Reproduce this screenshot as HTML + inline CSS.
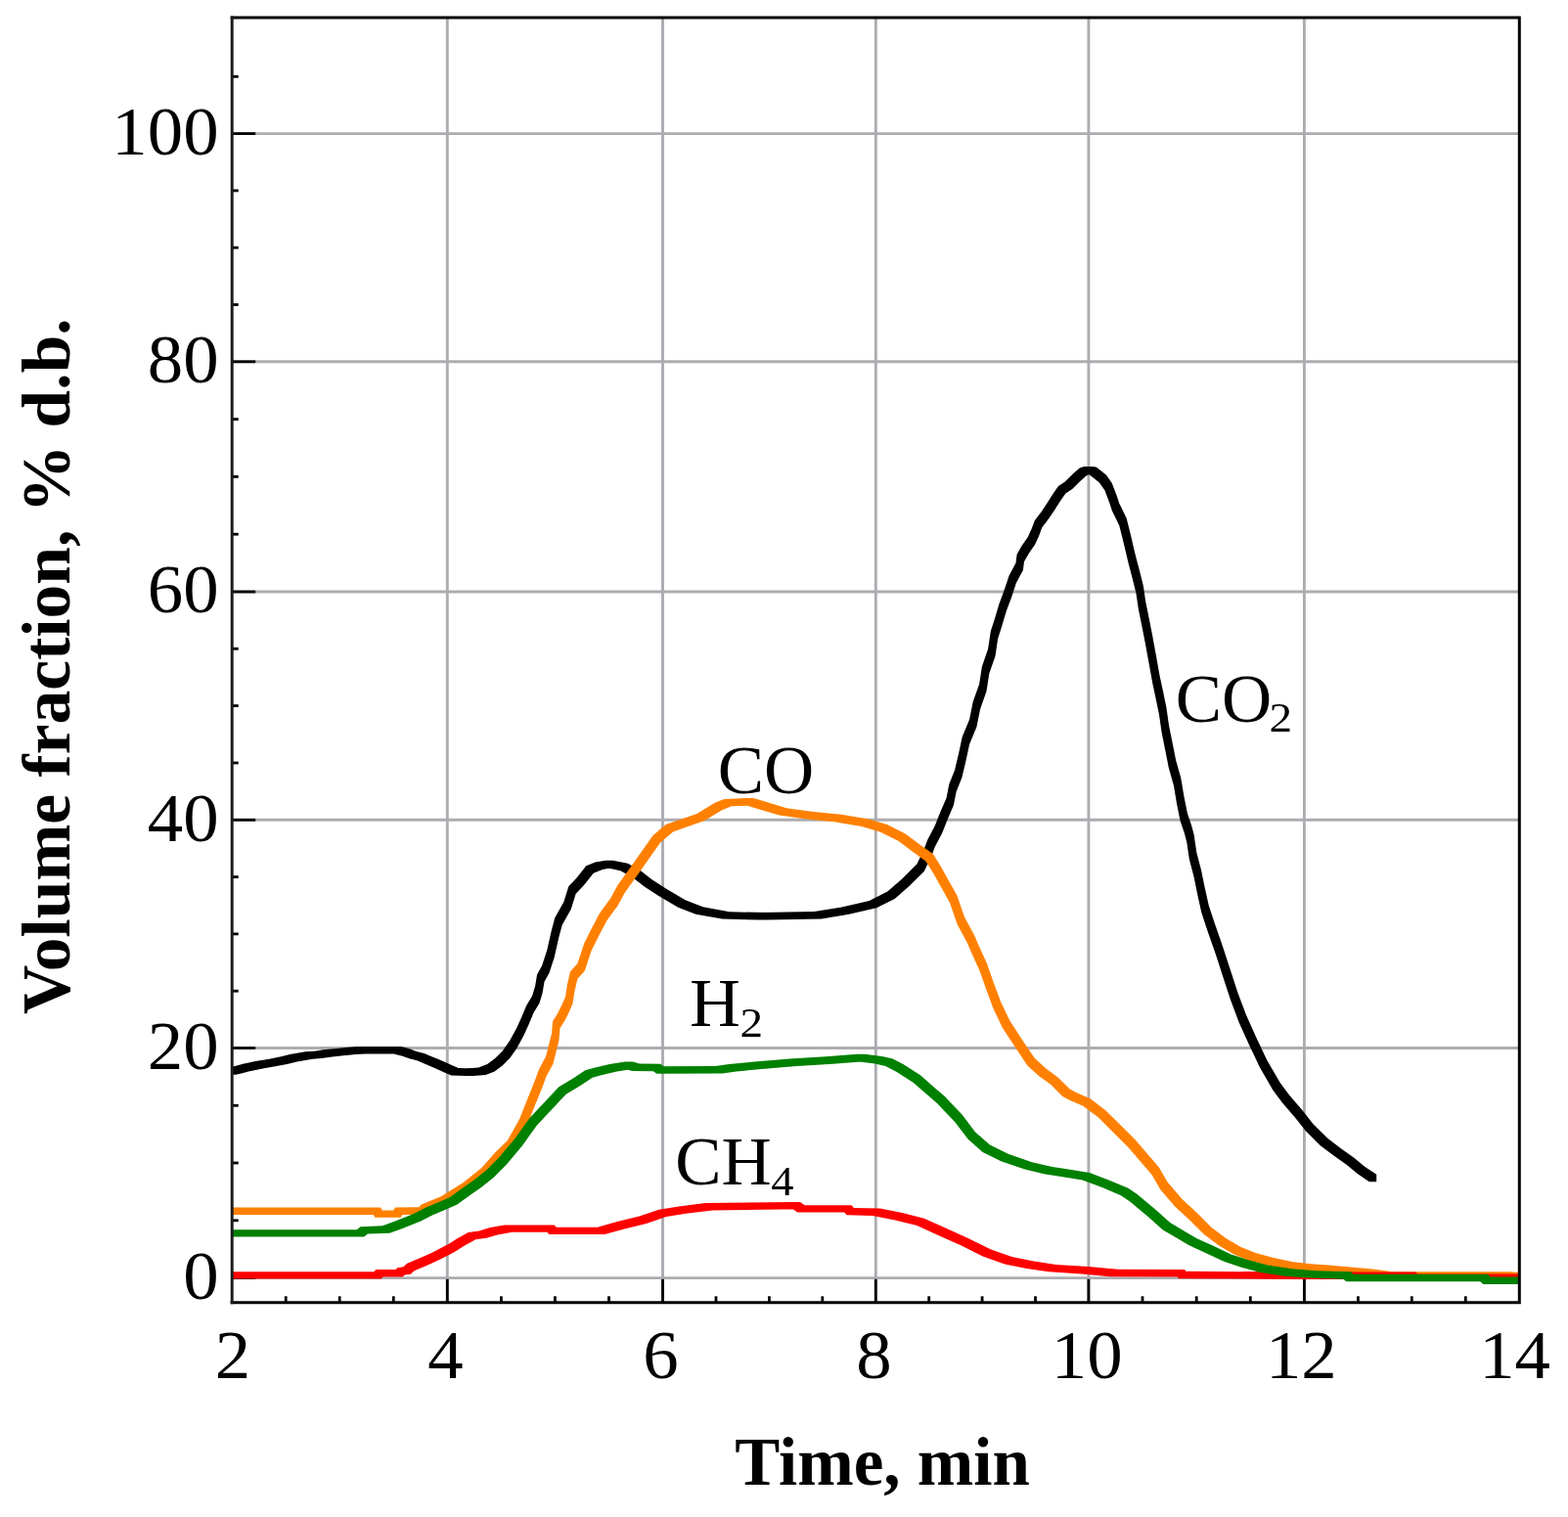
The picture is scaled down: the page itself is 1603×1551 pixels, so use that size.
<!DOCTYPE html>
<html><head><meta charset="utf-8"><title>Volume fraction vs time</title>
<style>html,body{margin:0;padding:0;background:#fff;}body{width:1603px;height:1551px;overflow:hidden;}svg{display:block;}</style></head><body>
<svg width="1603" height="1551" viewBox="0 0 1603 1551">
<rect x="0" y="0" width="1603" height="1551" fill="#fff"/>
<g stroke="#adacb1" stroke-width="2.9" fill="none"><line x1="237.2" y1="1306.6" x2="1553.3" y2="1306.6"/><line x1="237.2" y1="1071.5" x2="1553.3" y2="1071.5"/><line x1="237.2" y1="838.3" x2="1553.3" y2="838.3"/><line x1="237.2" y1="605.0" x2="1553.3" y2="605.0"/><line x1="237.2" y1="369.8" x2="1553.3" y2="369.8"/><line x1="237.2" y1="136.6" x2="1553.3" y2="136.6"/><line x1="457.3" y1="17.9" x2="457.3" y2="1331.8"/><line x1="677.5" y1="17.9" x2="677.5" y2="1331.8"/><line x1="895.3" y1="17.9" x2="895.3" y2="1331.8"/><line x1="1112.9" y1="17.9" x2="1112.9" y2="1331.8"/><line x1="1333.4" y1="17.9" x2="1333.4" y2="1331.8"/></g>
<g stroke="#000" stroke-width="2.8" fill="none"><line x1="237.2" y1="1306.6" x2="261.2" y2="1306.6"/><line x1="237.2" y1="1071.5" x2="261.2" y2="1071.5"/><line x1="237.2" y1="838.3" x2="261.2" y2="838.3"/><line x1="237.2" y1="605.0" x2="261.2" y2="605.0"/><line x1="237.2" y1="369.8" x2="261.2" y2="369.8"/><line x1="237.2" y1="136.6" x2="261.2" y2="136.6"/><line x1="237.2" y1="1247.8" x2="243.7" y2="1247.8"/><line x1="237.2" y1="1189.0" x2="243.7" y2="1189.0"/><line x1="237.2" y1="1130.3" x2="243.7" y2="1130.3"/><line x1="237.2" y1="1013.2" x2="243.7" y2="1013.2"/><line x1="237.2" y1="954.9" x2="243.7" y2="954.9"/><line x1="237.2" y1="896.6" x2="243.7" y2="896.6"/><line x1="237.2" y1="780.0" x2="243.7" y2="780.0"/><line x1="237.2" y1="721.6" x2="243.7" y2="721.6"/><line x1="237.2" y1="663.3" x2="243.7" y2="663.3"/><line x1="237.2" y1="546.2" x2="243.7" y2="546.2"/><line x1="237.2" y1="487.4" x2="243.7" y2="487.4"/><line x1="237.2" y1="428.6" x2="243.7" y2="428.6"/><line x1="237.2" y1="311.5" x2="243.7" y2="311.5"/><line x1="237.2" y1="253.2" x2="243.7" y2="253.2"/><line x1="237.2" y1="194.9" x2="243.7" y2="194.9"/><line x1="237.2" y1="78.3" x2="243.7" y2="78.3"/><line x1="457.3" y1="1331.8" x2="457.3" y2="1307.8"/><line x1="677.5" y1="1331.8" x2="677.5" y2="1307.8"/><line x1="895.3" y1="1331.8" x2="895.3" y2="1307.8"/><line x1="1112.9" y1="1331.8" x2="1112.9" y2="1307.8"/><line x1="1333.4" y1="1331.8" x2="1333.4" y2="1307.8"/><line x1="292.2" y1="1331.8" x2="292.2" y2="1325.3"/><line x1="347.2" y1="1331.8" x2="347.2" y2="1325.3"/><line x1="402.3" y1="1331.8" x2="402.3" y2="1325.3"/><line x1="512.4" y1="1331.8" x2="512.4" y2="1325.3"/><line x1="567.4" y1="1331.8" x2="567.4" y2="1325.3"/><line x1="622.5" y1="1331.8" x2="622.5" y2="1325.3"/><line x1="732.0" y1="1331.8" x2="732.0" y2="1325.3"/><line x1="786.4" y1="1331.8" x2="786.4" y2="1325.3"/><line x1="840.8" y1="1331.8" x2="840.8" y2="1325.3"/><line x1="949.7" y1="1331.8" x2="949.7" y2="1325.3"/><line x1="1004.1" y1="1331.8" x2="1004.1" y2="1325.3"/><line x1="1058.5" y1="1331.8" x2="1058.5" y2="1325.3"/><line x1="1168.0" y1="1331.8" x2="1168.0" y2="1325.3"/><line x1="1223.2" y1="1331.8" x2="1223.2" y2="1325.3"/><line x1="1278.3" y1="1331.8" x2="1278.3" y2="1325.3"/><line x1="1388.4" y1="1331.8" x2="1388.4" y2="1325.3"/><line x1="1443.3" y1="1331.8" x2="1443.3" y2="1325.3"/><line x1="1498.3" y1="1331.8" x2="1498.3" y2="1325.3"/></g>
<defs><clipPath id="pa"><rect x="237.2" y="17.9" width="1316.1" height="1313.9"/></clipPath></defs>
<g clip-path="url(#pa)">
<path fill="#000" fill-rule="nonzero" d="M233.60,1091.30 240.30,1089.90 247.70,1089.90 247.70,1097.30 241.00,1098.70 233.60,1098.70ZM240.30,1089.90 249.30,1087.50 256.70,1087.50 256.70,1094.90 247.70,1097.30 240.30,1097.30ZM249.30,1087.50 261.30,1085.10 268.70,1085.10 268.70,1092.50 256.70,1094.90 249.30,1094.90ZM261.30,1085.10 275.30,1082.70 282.70,1082.70 282.70,1090.10 268.70,1092.50 261.30,1092.50ZM275.30,1082.70 287.30,1080.30 294.70,1080.30 294.70,1087.70 282.70,1090.10 275.30,1090.10ZM287.30,1080.30 296.30,1078.10 303.70,1078.10 303.70,1085.50 294.70,1087.70 287.30,1087.70ZM296.30,1078.10 312.30,1075.30 319.70,1075.30 319.70,1082.70 303.70,1085.50 296.30,1085.50ZM312.30,1075.30 321.30,1074.70 328.70,1074.70 328.70,1082.10 319.70,1082.70 312.30,1082.70ZM321.30,1074.70 330.30,1073.30 337.70,1073.30 337.70,1080.70 328.70,1082.10 321.30,1082.10ZM330.30,1073.30 341.30,1072.20 348.70,1072.20 348.70,1079.60 337.70,1080.70 330.30,1080.70ZM341.30,1072.20 356.30,1070.70 363.70,1070.70 363.70,1078.10 348.70,1079.60 341.30,1079.60ZM356.30,1070.70 366.30,1070.00 373.70,1070.00 373.70,1077.40 363.70,1078.10 356.30,1078.10ZM366.30,1070.00 373.70,1070.00 410.00,1070.10 410.00,1077.50 402.60,1077.50 366.30,1077.40ZM402.60,1070.10 410.00,1070.10 418.70,1072.30 418.70,1079.70 411.30,1079.70 402.60,1077.50ZM411.30,1072.30 418.70,1072.30 425.70,1074.90 425.70,1082.30 418.30,1082.30 411.30,1079.70ZM418.30,1074.90 425.70,1074.90 433.70,1076.90 433.70,1084.30 426.30,1084.30 418.30,1082.30ZM426.30,1076.90 433.70,1076.90 440.70,1079.90 440.70,1087.30 433.30,1087.30 426.30,1084.30ZM433.30,1079.90 440.70,1079.90 447.70,1082.80 447.70,1090.20 440.30,1090.20 433.30,1087.30ZM440.30,1082.80 447.70,1082.80 455.70,1086.30 455.70,1093.70 448.30,1093.70 440.30,1090.20ZM448.30,1086.30 455.70,1086.30 461.70,1089.10 461.70,1096.50 454.30,1096.50 448.30,1093.70ZM454.30,1089.10 461.70,1089.10 468.70,1092.10 468.70,1099.50 461.30,1099.50 454.30,1096.50ZM461.30,1092.10 468.70,1092.10 483.70,1092.60 483.70,1100.00 476.30,1100.00 461.30,1099.50ZM476.30,1092.60 489.20,1091.60 496.60,1091.60 496.60,1099.00 483.70,1100.00 476.30,1100.00ZM489.20,1091.60 498.20,1088.10 505.60,1088.10 505.60,1095.50 496.60,1099.00 489.20,1099.00ZM498.20,1088.10 506.20,1082.10 513.60,1082.10 513.60,1089.50 505.60,1095.50 498.20,1095.50ZM506.20,1082.10 514.10,1074.10 521.50,1074.10 521.50,1081.50 513.60,1089.50 506.20,1089.50ZM514.10,1074.10 521.10,1064.10 528.50,1064.10 528.50,1071.50 521.50,1081.50 514.10,1081.50ZM521.10,1064.10 528.10,1051.20 535.50,1051.20 535.50,1058.60 528.50,1071.50 521.10,1071.50ZM528.10,1051.20 533.10,1040.20 540.50,1040.20 540.50,1047.60 535.50,1058.60 528.10,1058.60ZM533.10,1040.20 538.10,1028.20 545.50,1028.20 545.50,1035.60 540.50,1047.60 533.10,1047.60ZM538.10,1028.20 544.10,1018.20 551.50,1018.20 551.50,1025.60 545.50,1035.60 538.10,1035.60ZM544.10,1018.20 547.10,1008.20 554.50,1008.20 554.50,1015.60 551.50,1025.60 544.10,1025.60ZM547.10,1008.20 549.10,996.30 556.50,996.30 556.50,1003.70 554.50,1015.60 547.10,1015.60ZM549.10,996.30 554.10,987.30 561.50,987.30 561.50,994.70 556.50,1003.70 549.10,1003.70ZM554.10,987.30 559.30,971.30 566.70,971.30 566.70,978.70 561.50,994.70 554.10,994.70ZM559.30,971.30 563.80,951.30 571.20,951.30 571.20,958.70 566.70,978.70 559.30,978.70ZM563.80,951.30 567.30,938.30 574.70,938.30 574.70,945.70 571.20,958.70 563.80,958.70ZM567.30,938.30 576.30,922.30 583.70,922.30 583.70,929.70 574.70,945.70 567.30,945.70ZM576.30,922.30 581.30,906.30 588.70,906.30 588.70,913.70 583.70,929.70 576.30,929.70ZM581.30,906.30 589.80,897.30 597.20,897.30 597.20,904.70 588.70,913.70 581.30,913.70ZM589.80,897.30 599.30,885.30 606.70,885.30 606.70,892.70 597.20,904.70 589.80,904.70ZM599.30,885.30 608.60,881.60 616.00,881.60 616.00,889.00 606.70,892.70 599.30,892.70ZM608.60,881.60 619.30,879.70 626.70,879.70 626.70,887.10 616.00,889.00 608.60,889.00ZM619.30,879.70 626.70,879.70 641.70,882.80 641.70,890.20 634.30,890.20 619.30,887.10ZM634.30,882.80 641.70,882.80 653.70,889.30 653.70,896.70 646.30,896.70 634.30,890.20ZM646.30,889.30 653.70,889.30 666.50,899.30 666.50,906.70 659.10,906.70 646.30,896.70ZM659.10,899.30 666.50,899.30 681.20,908.80 681.20,916.20 673.80,916.20 659.10,906.70ZM673.80,908.80 681.20,908.80 700.70,920.30 700.70,927.70 693.30,927.70 673.80,916.20ZM693.30,920.30 700.70,920.30 718.70,927.30 718.70,934.70 711.30,934.70 693.30,927.70ZM711.30,927.30 718.70,927.30 745.70,932.20 745.70,939.60 738.30,939.60 711.30,934.70ZM738.30,932.20 745.70,932.20 783.70,933.10 783.70,940.50 776.30,940.50 738.30,939.60ZM776.30,933.10 832.40,932.10 839.80,932.10 839.80,939.50 783.70,940.50 776.30,940.50ZM832.40,932.10 860.50,927.40 867.90,927.40 867.90,934.80 839.80,939.50 832.40,939.50ZM860.50,927.40 888.60,920.90 896.00,920.90 896.00,928.30 867.90,934.80 860.50,934.80ZM888.60,920.90 907.30,911.50 914.70,911.50 914.70,918.90 896.00,928.30 888.60,928.30ZM907.30,911.50 922.30,898.40 929.70,898.40 929.70,905.80 914.70,918.90 907.30,918.90ZM922.30,898.40 937.30,883.50 944.70,883.50 944.70,890.90 929.70,905.80 922.30,905.80ZM937.30,883.50 944.40,869.10 951.80,869.10 951.80,876.50 944.70,890.90 937.30,890.90ZM944.40,869.10 948.30,858.50 955.70,858.50 955.70,865.90 951.80,876.50 944.40,876.50ZM948.30,858.50 955.80,844.30 963.20,844.30 963.20,851.70 955.70,865.90 948.30,865.90ZM955.80,844.30 961.40,830.10 968.80,830.10 968.80,837.50 963.20,851.70 955.80,851.70ZM961.40,830.10 967.50,815.90 974.90,815.90 974.90,823.30 968.80,837.50 961.40,837.50ZM967.50,815.90 970.30,801.80 977.70,801.80 977.70,809.20 974.90,823.30 967.50,823.30ZM970.30,801.80 976.00,787.60 983.40,787.60 983.40,795.00 977.70,809.20 970.30,809.20ZM976.00,787.60 980.10,770.30 987.50,770.30 987.50,777.70 983.40,795.00 976.00,795.00ZM980.10,770.30 983.70,753.50 991.10,753.50 991.10,760.90 987.50,777.70 980.10,777.70ZM983.70,753.50 991.10,735.50 998.50,735.50 998.50,742.90 991.10,760.90 983.70,760.90ZM991.10,735.50 994.70,717.50 1002.10,717.50 1002.10,724.90 998.50,742.90 991.10,742.90ZM994.70,717.50 1001.10,699.40 1008.50,699.40 1008.50,706.80 1002.10,724.90 994.70,724.90ZM1001.10,699.40 1003.90,681.40 1011.30,681.40 1011.30,688.80 1008.50,706.80 1001.10,706.80ZM1003.90,681.40 1010.10,663.40 1017.50,663.40 1017.50,670.80 1011.30,688.80 1003.90,688.80ZM1010.10,663.40 1012.80,645.30 1020.20,645.30 1020.20,652.70 1017.50,670.80 1010.10,670.80ZM1012.80,645.30 1016.50,633.90 1023.90,633.90 1023.90,641.30 1020.20,652.70 1012.80,652.70ZM1016.50,633.90 1021.50,617.20 1028.90,617.20 1028.90,624.60 1023.90,641.30 1016.50,641.30ZM1021.50,617.20 1026.50,603.80 1033.90,603.80 1033.90,611.20 1028.90,624.60 1021.50,624.60ZM1026.50,603.80 1031.50,588.70 1038.90,588.70 1038.90,596.10 1033.90,611.20 1026.50,611.20ZM1031.50,588.70 1038.50,575.50 1045.90,575.50 1045.90,582.90 1038.90,596.10 1031.50,596.10ZM1038.50,575.50 1039.60,566.80 1047.00,566.80 1047.00,574.20 1045.90,582.90 1038.50,582.90ZM1039.60,566.80 1044.60,558.00 1052.00,558.00 1052.00,565.40 1047.00,574.20 1039.60,574.20ZM1044.60,558.00 1050.70,549.30 1058.10,549.30 1058.10,556.70 1052.00,565.40 1044.60,565.40ZM1050.70,549.30 1054.70,540.60 1062.10,540.60 1062.10,548.00 1058.10,556.70 1050.70,556.70ZM1054.70,540.60 1057.90,531.90 1065.30,531.90 1065.30,539.30 1062.10,548.00 1054.70,548.00ZM1057.90,531.90 1064.60,523.20 1072.00,523.20 1072.00,530.60 1065.30,539.30 1057.90,539.30ZM1064.60,523.20 1070.40,514.50 1077.80,514.50 1077.80,521.90 1072.00,530.60 1064.60,530.60ZM1070.40,514.50 1075.90,505.80 1083.30,505.80 1083.30,513.20 1077.80,521.90 1070.40,521.90ZM1075.90,505.80 1082.00,497.10 1089.40,497.10 1089.40,504.50 1083.30,513.20 1075.90,513.20ZM1082.00,497.10 1088.80,492.50 1096.20,492.50 1096.20,499.90 1089.40,504.50 1082.00,504.50ZM1088.80,492.50 1096.30,485.00 1103.70,485.00 1103.70,492.40 1096.20,499.90 1088.80,499.90ZM1096.30,485.00 1103.70,478.50 1111.10,478.50 1111.10,485.90 1103.70,492.40 1096.30,492.40ZM1103.70,478.50 1108.30,477.10 1115.70,477.10 1115.70,484.50 1111.10,485.90 1103.70,485.90ZM1108.30,477.10 1115.70,477.10 1120.70,477.50 1120.70,484.90 1113.30,484.90 1108.30,484.50ZM1113.30,477.50 1120.70,477.50 1126.10,481.80 1126.10,489.20 1118.70,489.20 1113.30,484.90ZM1118.70,481.80 1126.10,481.80 1131.10,485.80 1131.10,493.20 1123.70,493.20 1118.70,489.20ZM1123.70,485.80 1131.10,485.80 1136.80,493.90 1136.80,501.30 1129.40,501.30 1123.70,493.20ZM1129.40,493.90 1136.80,493.90 1141.70,506.80 1141.70,514.20 1134.30,514.20 1129.40,501.30ZM1134.30,506.80 1141.70,506.80 1144.20,514.50 1144.20,521.90 1136.80,521.90 1134.30,514.20ZM1136.80,514.50 1144.20,514.50 1148.00,522.30 1148.00,529.70 1140.60,529.70 1136.80,521.90ZM1140.60,522.30 1148.00,522.30 1151.70,530.00 1151.70,537.40 1144.30,537.40 1140.60,529.70ZM1144.30,530.00 1151.70,530.00 1154.30,540.30 1154.30,547.70 1146.90,547.70 1144.30,537.40ZM1146.90,540.30 1154.30,540.30 1156.80,550.60 1156.80,558.00 1149.40,558.00 1146.90,547.70ZM1149.40,550.60 1156.80,550.60 1159.20,560.90 1159.20,568.30 1151.80,568.30 1149.40,558.00ZM1151.80,560.90 1159.20,560.90 1161.20,569.30 1161.20,576.70 1153.80,576.70 1151.80,568.30ZM1153.80,569.30 1161.20,569.30 1164.60,582.00 1164.60,589.40 1157.20,589.40 1153.80,576.70ZM1157.20,582.00 1164.60,582.00 1168.80,598.80 1168.80,606.20 1161.40,606.20 1157.20,589.40ZM1161.40,598.80 1168.80,598.80 1171.30,615.50 1171.30,622.90 1163.90,622.90 1161.40,606.20ZM1163.90,615.50 1171.30,615.50 1174.70,632.30 1174.70,639.70 1167.30,639.70 1163.90,622.90ZM1167.30,632.30 1174.70,632.30 1178.00,649.00 1178.00,656.40 1170.60,656.40 1167.30,639.70ZM1170.60,649.00 1178.00,649.00 1181.40,667.50 1181.40,674.90 1174.00,674.90 1170.60,656.40ZM1174.00,667.50 1181.40,667.50 1185.60,690.90 1185.60,698.30 1178.20,698.30 1174.00,674.90ZM1178.20,690.90 1185.60,690.90 1188.70,705.30 1188.70,712.70 1181.30,712.70 1178.20,698.30ZM1181.30,705.30 1188.70,705.30 1192.40,723.30 1192.40,730.70 1185.00,730.70 1181.30,712.70ZM1185.00,723.30 1192.40,723.30 1195.00,741.40 1195.00,748.80 1187.60,748.80 1185.00,730.70ZM1187.60,741.40 1195.00,741.40 1198.60,759.40 1198.60,766.80 1191.20,766.80 1187.60,748.80ZM1191.20,759.40 1198.60,759.40 1202.20,777.50 1202.20,784.90 1194.80,784.90 1191.20,766.80ZM1194.80,777.50 1202.20,777.50 1207.30,795.50 1207.30,802.90 1199.90,802.90 1194.80,784.90ZM1199.90,795.50 1207.30,795.50 1210.30,813.50 1210.30,820.90 1202.90,820.90 1199.90,802.90ZM1202.90,813.50 1210.30,813.50 1213.90,831.60 1213.90,839.00 1206.50,839.00 1202.90,820.90ZM1206.50,831.60 1213.90,831.60 1218.20,844.30 1218.20,851.70 1210.80,851.70 1206.50,839.00ZM1210.80,844.30 1218.20,844.30 1220.60,853.30 1220.60,860.70 1213.20,860.70 1210.80,851.70ZM1213.20,853.30 1220.60,853.30 1223.30,871.40 1223.30,878.80 1215.90,878.80 1213.20,860.70ZM1215.90,871.40 1223.30,871.40 1228.00,889.40 1228.00,896.80 1220.60,896.80 1215.90,878.80ZM1220.60,889.40 1228.00,889.40 1231.70,907.50 1231.70,914.90 1224.30,914.90 1220.60,896.80ZM1224.30,907.50 1231.70,907.50 1235.70,925.50 1235.70,932.90 1228.30,932.90 1224.30,914.90ZM1228.30,925.50 1235.70,925.50 1241.60,943.50 1241.60,950.90 1234.20,950.90 1228.30,932.90ZM1234.20,943.50 1241.60,943.50 1247.90,961.60 1247.90,969.00 1240.50,969.00 1234.20,950.90ZM1240.50,961.60 1247.90,961.60 1250.10,967.90 1250.10,975.30 1242.70,975.30 1240.50,969.00ZM1242.70,967.90 1250.10,967.90 1257.60,991.10 1257.60,998.50 1250.20,998.50 1242.70,975.30ZM1250.20,991.10 1257.60,991.10 1265.20,1014.30 1265.20,1021.70 1257.80,1021.70 1250.20,998.50ZM1257.80,1014.30 1265.20,1014.30 1273.90,1037.50 1273.90,1044.90 1266.50,1044.90 1257.80,1021.70ZM1266.50,1037.50 1273.90,1037.50 1284.30,1060.70 1284.30,1068.10 1276.90,1068.10 1266.50,1044.90ZM1276.90,1060.70 1284.30,1060.70 1295.30,1083.90 1295.30,1091.30 1287.90,1091.30 1276.90,1068.10ZM1287.90,1083.90 1295.30,1083.90 1308.70,1107.10 1308.70,1114.50 1301.30,1114.50 1287.90,1091.30ZM1301.30,1107.10 1308.70,1107.10 1318.20,1119.80 1318.20,1127.20 1310.80,1127.20 1301.30,1114.50ZM1310.80,1119.80 1318.20,1119.80 1327.20,1130.30 1327.20,1137.70 1319.80,1137.70 1310.80,1127.20ZM1319.80,1130.30 1327.20,1130.30 1330.70,1134.30 1330.70,1141.70 1323.30,1141.70 1319.80,1137.70ZM1323.30,1134.30 1330.70,1134.30 1342.70,1149.40 1342.70,1156.80 1335.30,1156.80 1323.30,1141.70ZM1335.30,1149.40 1342.70,1149.40 1357.20,1163.80 1357.20,1171.20 1349.80,1171.20 1335.30,1156.80ZM1349.80,1163.80 1357.20,1163.80 1371.60,1174.70 1371.60,1182.10 1364.20,1182.10 1349.80,1171.20ZM1364.20,1174.70 1371.60,1174.70 1384.30,1183.70 1384.30,1191.10 1376.90,1191.10 1364.20,1182.10ZM1376.90,1183.70 1384.30,1183.70 1395.10,1192.70 1395.10,1200.10 1387.70,1200.10 1376.90,1191.10ZM1387.70,1192.70 1395.10,1192.70 1407.20,1200.80 1407.20,1208.20 1399.80,1208.20 1387.70,1200.10Z"/>
<path fill="#ff8000" fill-rule="nonzero" d="M233.80,1234.60 389.00,1234.60 389.00,1242.00 233.80,1242.00ZM381.60,1234.60 389.00,1234.60 390.90,1237.40 390.90,1244.80 383.50,1244.80 381.60,1242.00ZM383.50,1237.40 409.60,1237.40 409.60,1244.80 383.50,1244.80ZM402.20,1237.40 404.10,1234.60 411.50,1234.60 411.50,1242.00 409.60,1244.80 402.20,1244.80ZM404.10,1234.60 428.30,1234.30 435.70,1234.30 435.70,1241.70 411.50,1242.00 404.10,1242.00ZM428.30,1234.30 430.30,1231.80 437.70,1231.80 437.70,1239.20 435.70,1241.70 428.30,1241.70ZM430.30,1231.80 450.90,1223.30 458.30,1223.30 458.30,1230.70 437.70,1239.20 430.30,1239.20ZM450.90,1223.30 473.30,1209.30 480.70,1209.30 480.70,1216.70 458.30,1230.70 450.90,1230.70ZM473.30,1209.30 492.10,1194.30 499.50,1194.30 499.50,1201.70 480.70,1216.70 473.30,1216.70ZM492.10,1194.30 507.00,1177.50 514.40,1177.50 514.40,1184.90 499.50,1201.70 492.10,1201.70ZM507.00,1177.50 518.70,1166.30 526.10,1166.30 526.10,1173.70 514.40,1184.90 507.00,1184.90ZM518.70,1166.30 531.00,1144.20 538.40,1144.20 538.40,1151.60 526.10,1173.70 518.70,1173.70ZM531.00,1144.20 540.80,1119.70 548.20,1119.70 548.20,1127.10 538.40,1151.60 531.00,1151.60ZM540.80,1119.70 547.10,1104.10 554.50,1104.10 554.50,1111.50 548.20,1127.10 540.80,1127.10ZM547.10,1104.10 551.10,1093.10 558.50,1093.10 558.50,1100.50 554.50,1111.50 547.10,1111.50ZM551.10,1093.10 558.10,1080.10 565.50,1080.10 565.50,1087.50 558.50,1100.50 551.10,1100.50ZM558.10,1080.10 561.10,1068.10 568.50,1068.10 568.50,1075.50 565.50,1087.50 558.10,1087.50ZM561.10,1068.10 564.10,1056.20 571.50,1056.20 571.50,1063.60 568.50,1075.50 561.10,1075.50ZM564.10,1056.20 565.00,1044.20 572.40,1044.20 572.40,1051.60 571.50,1063.60 564.10,1063.60ZM565.00,1044.20 570.00,1036.20 577.40,1036.20 577.40,1043.60 572.40,1051.60 565.00,1051.60ZM570.00,1036.20 574.00,1028.20 581.40,1028.20 581.40,1035.60 577.40,1043.60 570.00,1043.60ZM574.00,1028.20 578.00,1019.20 585.40,1019.20 585.40,1026.60 581.40,1035.60 574.00,1035.60ZM578.00,1019.20 580.00,1006.30 587.40,1006.30 587.40,1013.70 585.40,1026.60 578.00,1026.60ZM580.00,1006.30 583.00,993.30 590.40,993.30 590.40,1000.70 587.40,1013.70 580.00,1013.70ZM583.00,993.30 590.30,985.30 597.70,985.30 597.70,992.70 590.40,1000.70 583.00,1000.70ZM590.30,985.30 597.30,964.30 604.70,964.30 604.70,971.70 597.70,992.70 590.30,992.70ZM597.30,964.30 605.30,948.30 612.70,948.30 612.70,955.70 604.70,971.70 597.30,971.70ZM605.30,948.30 613.30,933.30 620.70,933.30 620.70,940.70 612.70,955.70 605.30,955.70ZM613.30,933.30 624.30,918.30 631.70,918.30 631.70,925.70 620.70,940.70 613.30,940.70ZM624.30,918.30 631.30,905.30 638.70,905.30 638.70,912.70 631.70,925.70 624.30,925.70ZM631.30,905.30 646.30,884.30 653.70,884.30 653.70,891.70 638.70,912.70 631.30,912.70ZM646.30,884.30 658.30,867.30 665.70,867.30 665.70,874.70 653.70,891.70 646.30,891.70ZM658.30,867.30 667.50,854.30 674.90,854.30 674.90,861.70 665.70,874.70 658.30,874.70ZM667.50,854.30 680.60,843.10 688.00,843.10 688.00,850.50 674.90,861.70 667.50,861.70ZM680.60,843.10 693.70,838.40 701.10,838.40 701.10,845.80 688.00,850.50 680.60,850.50ZM693.70,838.40 712.40,831.90 719.80,831.90 719.80,839.30 701.10,845.80 693.70,845.80ZM712.40,831.90 731.20,820.60 738.60,820.60 738.60,828.00 719.80,839.30 712.40,839.30ZM731.20,820.60 740.50,816.90 747.90,816.90 747.90,824.30 738.60,828.00 731.20,828.00ZM740.50,816.90 763.00,816.00 770.40,816.00 770.40,823.40 747.90,824.30 740.50,824.30ZM763.00,816.00 770.40,816.00 785.40,820.60 785.40,828.00 778.00,828.00 763.00,823.40ZM778.00,820.60 785.40,820.60 804.10,826.20 804.10,833.60 796.70,833.60 778.00,828.00ZM796.70,826.20 804.10,826.20 832.10,830.00 832.10,837.40 824.70,837.40 796.70,833.60ZM824.70,830.00 832.10,830.00 860.20,832.80 860.20,840.20 852.80,840.20 824.70,837.40ZM852.80,832.80 860.20,832.80 888.30,837.50 888.30,844.90 880.90,844.90 852.80,840.20ZM880.90,837.50 888.30,837.50 907.00,843.10 907.00,850.50 899.60,850.50 880.90,844.90ZM899.60,843.10 907.00,843.10 925.70,852.40 925.70,859.80 918.30,859.80 899.60,850.50ZM918.30,852.40 925.70,852.40 940.70,863.70 940.70,871.10 933.30,871.10 918.30,859.80ZM933.30,863.70 940.70,863.70 953.80,873.00 953.80,880.40 946.40,880.40 933.30,871.10ZM946.40,873.00 953.80,873.00 961.50,885.30 961.50,892.70 954.10,892.70 946.40,880.40ZM954.10,885.30 961.50,885.30 970.90,902.20 970.90,909.60 963.50,909.60 954.10,892.70ZM963.50,902.20 970.90,902.20 978.30,915.30 978.30,922.70 970.90,922.70 963.50,909.60ZM970.90,915.30 978.30,915.30 985.90,937.30 985.90,944.70 978.50,944.70 970.90,922.70ZM978.50,937.30 985.90,937.30 996.60,957.30 996.60,964.70 989.20,964.70 978.50,944.70ZM989.20,957.30 996.60,957.30 1000.30,966.00 1000.30,973.40 992.90,973.40 989.20,964.70ZM992.90,966.00 1000.30,966.00 1009.00,985.30 1009.00,992.70 1001.60,992.70 992.90,973.40ZM1001.60,985.30 1009.00,985.30 1015.80,1004.70 1015.80,1012.10 1008.40,1012.10 1001.60,992.70ZM1008.40,1004.70 1015.80,1004.70 1023.00,1024.00 1023.00,1031.40 1015.60,1031.40 1008.40,1012.10ZM1015.60,1024.00 1023.00,1024.00 1032.20,1043.30 1032.20,1050.70 1024.80,1050.70 1015.60,1031.40ZM1024.80,1043.30 1032.20,1043.30 1044.80,1062.70 1044.80,1070.10 1037.40,1070.10 1024.80,1050.70ZM1037.40,1062.70 1044.80,1062.70 1057.80,1082.00 1057.80,1089.40 1050.40,1089.40 1037.40,1070.10ZM1050.40,1082.00 1057.80,1082.00 1069.70,1092.80 1069.70,1100.20 1062.30,1100.20 1050.40,1089.40ZM1062.30,1092.80 1069.70,1092.80 1081.50,1101.40 1081.50,1108.80 1074.10,1108.80 1062.30,1100.20ZM1074.10,1101.40 1081.50,1101.40 1093.70,1113.60 1093.70,1121.00 1086.30,1121.00 1074.10,1108.80ZM1086.30,1113.60 1093.70,1113.60 1100.70,1117.30 1100.70,1124.70 1093.30,1124.70 1086.30,1121.00ZM1093.30,1117.30 1100.70,1117.30 1114.60,1123.30 1114.60,1130.70 1107.20,1130.70 1093.30,1124.70ZM1107.20,1123.30 1114.60,1123.30 1130.00,1134.90 1130.00,1142.30 1122.60,1142.30 1107.20,1130.70ZM1122.60,1134.90 1130.00,1134.90 1145.50,1150.30 1145.50,1157.70 1138.10,1157.70 1122.60,1142.30ZM1138.10,1150.30 1145.50,1150.30 1161.00,1165.80 1161.00,1173.20 1153.60,1173.20 1138.10,1157.70ZM1153.60,1165.80 1161.00,1165.80 1172.60,1179.30 1172.60,1186.70 1165.20,1186.70 1153.60,1173.20ZM1165.20,1179.30 1172.60,1179.30 1184.70,1193.30 1184.70,1200.70 1177.30,1200.70 1165.20,1186.70ZM1177.30,1193.30 1184.70,1193.30 1193.70,1208.80 1193.70,1216.20 1186.30,1216.20 1177.30,1200.70ZM1186.30,1208.80 1193.70,1208.80 1208.70,1226.30 1208.70,1233.70 1201.30,1233.70 1186.30,1216.20ZM1201.30,1226.30 1208.70,1226.30 1223.70,1240.00 1223.70,1247.40 1216.30,1247.40 1201.30,1233.70ZM1216.30,1240.00 1223.70,1240.00 1238.60,1254.90 1238.60,1262.30 1231.20,1262.30 1216.30,1247.40ZM1231.20,1254.90 1238.60,1254.90 1253.60,1266.20 1253.60,1273.60 1246.20,1273.60 1231.20,1262.30ZM1246.20,1266.20 1253.60,1266.20 1268.50,1274.90 1268.50,1282.30 1261.10,1282.30 1246.20,1273.60ZM1261.10,1274.90 1268.50,1274.90 1283.50,1281.10 1283.50,1288.50 1276.10,1288.50 1261.10,1282.30ZM1276.10,1281.10 1283.50,1281.10 1302.20,1286.10 1302.20,1293.50 1294.80,1293.50 1276.10,1288.50ZM1294.80,1286.10 1302.20,1286.10 1320.90,1289.90 1320.90,1297.30 1313.50,1297.30 1294.80,1293.50ZM1313.50,1289.90 1320.90,1289.90 1339.70,1292.30 1339.70,1299.70 1332.30,1299.70 1313.50,1297.30ZM1332.30,1292.30 1339.70,1292.30 1358.40,1293.60 1358.40,1301.00 1351.00,1301.00 1332.30,1299.70ZM1351.00,1293.60 1358.40,1293.60 1383.70,1295.80 1383.70,1303.20 1376.30,1303.20 1351.00,1301.00ZM1376.30,1295.80 1383.70,1295.80 1405.70,1297.80 1405.70,1305.20 1398.30,1305.20 1376.30,1303.20ZM1398.30,1297.80 1405.70,1297.80 1423.70,1300.30 1423.70,1307.70 1416.30,1307.70 1398.30,1305.20ZM1416.30,1300.30 1543.70,1300.30 1543.70,1307.70 1416.30,1307.70ZM1536.30,1300.30 1543.70,1300.30 1556.70,1301.30 1556.70,1308.70 1549.30,1308.70 1536.30,1307.70Z"/>
<path fill="#ff0000" fill-rule="nonzero" d="M233.80,1300.20 389.70,1300.20 389.70,1307.60 233.80,1307.60ZM382.30,1300.20 384.30,1298.00 391.70,1298.00 391.70,1305.40 389.70,1307.60 382.30,1307.60ZM384.30,1298.00 411.70,1298.00 411.70,1305.40 384.30,1305.40ZM404.30,1298.00 406.30,1296.20 413.70,1296.20 413.70,1303.60 411.70,1305.40 404.30,1305.40ZM406.30,1296.20 412.30,1295.30 419.70,1295.30 419.70,1302.70 413.70,1303.60 406.30,1303.60ZM412.30,1295.30 416.20,1291.80 423.60,1291.80 423.60,1299.20 419.70,1302.70 412.30,1302.70ZM416.20,1291.80 428.70,1286.50 436.10,1286.50 436.10,1293.90 423.60,1299.20 416.20,1299.20ZM428.70,1286.50 441.20,1280.90 448.60,1280.90 448.60,1288.30 436.10,1293.90 428.70,1293.90ZM441.20,1280.90 453.60,1274.60 461.00,1274.60 461.00,1282.00 448.60,1288.30 441.20,1288.30ZM453.60,1274.60 458.50,1271.90 465.90,1271.90 465.90,1279.30 461.00,1282.00 453.60,1282.00ZM458.50,1271.90 467.50,1266.20 474.90,1266.20 474.90,1273.60 465.90,1279.30 458.50,1279.30ZM467.50,1266.20 478.80,1259.90 486.20,1259.90 486.20,1267.30 474.90,1273.60 467.50,1273.60ZM478.80,1259.90 490.00,1258.40 497.40,1258.40 497.40,1265.80 486.20,1267.30 478.80,1267.30ZM490.00,1258.40 501.20,1255.00 508.60,1255.00 508.60,1262.40 497.40,1265.80 490.00,1265.80ZM501.20,1255.00 516.20,1252.40 523.60,1252.40 523.60,1259.80 508.60,1262.40 501.20,1262.40ZM516.20,1252.40 566.60,1252.40 566.60,1259.80 516.20,1259.80ZM559.20,1252.40 566.60,1252.40 568.80,1254.70 568.80,1262.10 561.40,1262.10 559.20,1259.80ZM561.40,1254.70 618.20,1254.70 618.20,1262.10 561.40,1262.10ZM610.80,1254.70 631.00,1249.10 638.40,1249.10 638.40,1256.50 618.20,1262.10 610.80,1262.10ZM631.00,1249.10 653.50,1243.50 660.90,1243.50 660.90,1250.90 638.40,1256.50 631.00,1256.50ZM653.50,1243.50 673.70,1236.70 681.10,1236.70 681.10,1244.10 660.90,1250.90 653.50,1250.90ZM673.70,1236.70 693.90,1233.40 701.30,1233.40 701.30,1240.80 681.10,1244.10 673.70,1244.10ZM693.90,1233.40 720.90,1230.00 728.30,1230.00 728.30,1237.40 701.30,1240.80 693.90,1240.80ZM720.90,1230.00 810.70,1228.90 818.10,1228.90 818.10,1236.30 728.30,1237.40 720.90,1237.40ZM810.70,1228.90 818.10,1228.90 822.60,1232.20 822.60,1239.60 815.20,1239.60 810.70,1236.30ZM815.20,1232.20 870.60,1232.20 870.60,1239.60 815.20,1239.60ZM863.20,1232.20 870.60,1232.20 872.90,1234.90 872.90,1242.30 865.50,1242.30 863.20,1239.60ZM865.50,1234.90 872.90,1234.90 899.80,1235.60 899.80,1243.00 892.40,1243.00 865.50,1242.30ZM892.40,1235.60 899.80,1235.60 922.30,1240.10 922.30,1247.50 914.90,1247.50 892.40,1243.00ZM914.90,1240.10 922.30,1240.10 944.80,1245.70 944.80,1253.10 937.40,1253.10 914.90,1247.50ZM937.40,1245.70 944.80,1245.70 967.20,1255.80 967.20,1263.20 959.80,1263.20 937.40,1253.10ZM959.80,1255.80 967.20,1255.80 989.70,1265.90 989.70,1273.30 982.30,1273.30 959.80,1263.20ZM982.30,1265.90 989.70,1265.90 1012.10,1277.10 1012.10,1284.50 1004.70,1284.50 982.30,1273.30ZM1004.70,1277.10 1012.10,1277.10 1034.60,1285.00 1034.60,1292.40 1027.20,1292.40 1004.70,1284.50ZM1027.20,1285.00 1034.60,1285.00 1057.00,1289.50 1057.00,1296.90 1049.60,1296.90 1027.20,1292.40ZM1049.60,1289.50 1057.00,1289.50 1079.50,1292.90 1079.50,1300.30 1072.10,1300.30 1049.60,1296.90ZM1072.10,1292.90 1079.50,1292.90 1113.20,1295.10 1113.20,1302.50 1105.80,1302.50 1072.10,1300.30ZM1105.80,1295.10 1113.20,1295.10 1142.40,1297.80 1142.40,1305.20 1135.00,1305.20 1105.80,1302.50ZM1135.00,1297.80 1142.40,1297.80 1211.10,1298.00 1211.10,1305.40 1203.70,1305.40 1135.00,1305.20ZM1203.70,1298.00 1211.10,1298.00 1212.40,1299.80 1212.40,1307.20 1205.00,1307.20 1203.70,1305.40ZM1205.00,1299.80 1212.40,1299.80 1339.70,1300.50 1339.70,1307.90 1332.30,1307.90 1205.00,1307.20ZM1332.30,1300.50 1446.70,1300.50 1446.70,1307.90 1332.30,1307.90ZM1439.30,1300.50 1446.70,1300.50 1449.70,1302.50 1449.70,1309.90 1442.30,1309.90 1439.30,1307.90ZM1442.30,1302.50 1556.70,1302.50 1556.70,1309.90 1442.30,1309.90Z"/>
<path fill="#008000" fill-rule="nonzero" d="M233.80,1257.20 372.20,1257.20 372.20,1264.60 233.80,1264.60ZM364.80,1257.20 368.50,1254.20 375.90,1254.20 375.90,1261.60 372.20,1264.60 364.80,1264.60ZM368.50,1254.20 391.00,1253.30 398.40,1253.30 398.40,1260.70 375.90,1261.60 368.50,1261.60ZM391.00,1253.30 404.10,1248.60 411.50,1248.60 411.50,1256.00 398.40,1260.70 391.00,1260.70ZM404.10,1248.60 422.80,1241.10 430.20,1241.10 430.20,1248.50 411.50,1256.00 404.10,1256.00ZM422.80,1241.10 435.00,1234.80 442.40,1234.80 442.40,1242.20 430.20,1248.50 422.80,1248.50ZM435.00,1234.80 447.50,1229.60 454.90,1229.60 454.90,1237.00 442.40,1242.20 435.00,1242.20ZM447.50,1229.60 460.00,1224.10 467.40,1224.10 467.40,1231.50 454.90,1237.00 447.50,1237.00ZM460.00,1224.10 472.40,1215.10 479.80,1215.10 479.80,1222.50 467.40,1231.50 460.00,1231.50ZM472.40,1215.10 484.90,1206.30 492.30,1206.30 492.30,1213.70 479.80,1222.50 472.40,1222.50ZM484.90,1206.30 497.40,1196.30 504.80,1196.30 504.80,1203.70 492.30,1213.70 484.90,1213.70ZM497.40,1196.30 510.30,1183.30 517.70,1183.30 517.70,1190.70 504.80,1203.70 497.40,1203.70ZM510.30,1183.30 526.30,1164.30 533.70,1164.30 533.70,1171.70 517.70,1190.70 510.30,1190.70ZM526.30,1164.30 541.30,1143.30 548.70,1143.30 548.70,1150.70 533.70,1171.70 526.30,1171.70ZM541.30,1143.30 556.30,1127.30 563.70,1127.30 563.70,1134.70 548.70,1150.70 541.30,1150.70ZM556.30,1127.30 571.30,1111.30 578.70,1111.30 578.70,1118.70 563.70,1134.70 556.30,1134.70ZM571.30,1111.30 586.30,1102.30 593.70,1102.30 593.70,1109.70 578.70,1118.70 571.30,1118.70ZM586.30,1102.30 598.30,1094.30 605.70,1094.30 605.70,1101.70 593.70,1109.70 586.30,1109.70ZM598.30,1094.30 608.30,1091.60 615.70,1091.60 615.70,1099.00 605.70,1101.70 598.30,1101.70ZM608.30,1091.60 623.30,1088.10 630.70,1088.10 630.70,1095.50 615.70,1099.00 608.30,1099.00ZM623.30,1088.10 639.30,1085.60 646.70,1085.60 646.70,1093.00 630.70,1095.50 623.30,1095.50ZM639.30,1085.60 646.70,1085.60 653.70,1087.60 653.70,1095.00 646.30,1095.00 639.30,1093.00ZM646.30,1087.60 653.70,1087.60 675.20,1087.80 675.20,1095.20 667.80,1095.20 646.30,1095.00ZM667.80,1087.80 675.20,1087.80 678.70,1090.30 678.70,1097.70 671.30,1097.70 667.80,1095.20ZM671.30,1090.30 731.30,1090.00 738.70,1090.00 738.70,1097.40 678.70,1097.70 671.30,1097.70ZM731.30,1090.00 745.30,1088.10 752.70,1088.10 752.70,1095.50 738.70,1097.40 731.30,1097.40ZM745.30,1088.10 771.30,1085.60 778.70,1085.60 778.70,1093.00 752.70,1095.50 745.30,1095.50ZM771.30,1085.60 807.30,1082.50 814.70,1082.50 814.70,1089.90 778.70,1093.00 771.30,1093.00ZM807.30,1082.50 844.30,1080.30 851.70,1080.30 851.70,1087.70 814.70,1089.90 807.30,1089.90ZM844.30,1080.30 876.30,1077.80 883.70,1077.80 883.70,1085.20 851.70,1087.70 844.30,1087.70ZM876.30,1077.80 883.70,1077.80 901.70,1080.00 901.70,1087.40 894.30,1087.40 876.30,1085.20ZM894.30,1080.00 901.70,1080.00 912.70,1082.50 912.70,1089.90 905.30,1089.90 894.30,1087.40ZM905.30,1082.50 912.70,1082.50 923.70,1088.30 923.70,1095.70 916.30,1095.70 905.30,1089.90ZM916.30,1088.30 923.70,1088.30 940.90,1099.30 940.90,1106.70 933.50,1106.70 916.30,1095.70ZM933.50,1099.30 940.90,1099.30 955.90,1112.40 955.90,1119.80 948.50,1119.80 933.50,1106.70ZM948.50,1112.40 955.90,1112.40 965.70,1120.80 965.70,1128.20 958.30,1128.20 948.50,1119.80ZM958.30,1120.80 965.70,1120.80 973.40,1129.10 973.40,1136.50 966.00,1136.50 958.30,1128.20ZM966.00,1129.10 973.40,1129.10 983.70,1139.80 983.70,1147.20 976.30,1147.20 966.00,1136.50ZM976.30,1139.80 983.70,1139.80 997.10,1157.40 997.10,1164.80 989.70,1164.80 976.30,1147.20ZM989.70,1157.40 997.10,1157.40 1012.00,1170.50 1012.00,1177.90 1004.60,1177.90 989.70,1164.80ZM1004.60,1170.50 1012.00,1170.50 1030.70,1179.80 1030.70,1187.20 1023.30,1187.20 1004.60,1177.90ZM1023.30,1179.80 1030.70,1179.80 1055.10,1188.20 1055.10,1195.60 1047.70,1195.60 1023.30,1187.20ZM1047.70,1188.20 1055.10,1188.20 1075.70,1193.10 1075.70,1200.50 1068.30,1200.50 1047.70,1195.60ZM1068.30,1193.10 1075.70,1193.10 1087.50,1194.80 1087.50,1202.20 1080.10,1202.20 1068.30,1200.50ZM1080.10,1194.80 1087.50,1194.80 1113.90,1199.10 1113.90,1206.50 1106.50,1206.50 1080.10,1202.20ZM1106.50,1199.10 1113.90,1199.10 1134.70,1206.90 1134.70,1214.30 1127.30,1214.30 1106.50,1206.50ZM1127.30,1206.90 1134.70,1206.90 1153.30,1214.80 1153.30,1222.20 1145.90,1222.20 1127.30,1214.30ZM1145.90,1214.80 1153.30,1214.80 1162.60,1221.00 1162.60,1228.40 1155.20,1228.40 1145.90,1222.20ZM1155.20,1221.00 1162.60,1221.00 1181.70,1237.10 1181.70,1244.50 1174.30,1244.50 1155.20,1228.40ZM1174.30,1237.10 1181.70,1237.10 1196.20,1250.10 1196.20,1257.50 1188.80,1257.50 1174.30,1244.50ZM1188.80,1250.10 1196.20,1250.10 1208.70,1257.40 1208.70,1264.80 1201.30,1264.80 1188.80,1257.50ZM1201.30,1257.40 1208.70,1257.40 1223.60,1266.20 1223.60,1273.60 1216.20,1273.60 1201.30,1264.80ZM1216.20,1266.20 1223.60,1266.20 1239.80,1273.60 1239.80,1281.00 1232.40,1281.00 1216.20,1273.60ZM1232.40,1273.60 1239.80,1273.60 1258.60,1282.40 1258.60,1289.80 1251.20,1289.80 1232.40,1281.00ZM1251.20,1282.40 1258.60,1282.40 1277.30,1288.60 1277.30,1296.00 1269.90,1296.00 1251.20,1289.80ZM1269.90,1288.60 1277.30,1288.60 1296.00,1293.60 1296.00,1301.00 1288.60,1301.00 1269.90,1296.00ZM1288.60,1293.60 1296.00,1293.60 1320.90,1297.30 1320.90,1304.70 1313.50,1304.70 1288.60,1301.00ZM1313.50,1297.30 1320.90,1297.30 1345.90,1299.20 1345.90,1306.60 1338.50,1306.60 1313.50,1304.70ZM1338.50,1299.20 1345.90,1299.20 1380.70,1300.30 1380.70,1307.70 1373.30,1307.70 1338.50,1306.60ZM1373.30,1300.30 1380.70,1300.30 1383.70,1302.80 1383.70,1310.20 1376.30,1310.20 1373.30,1307.70ZM1376.30,1302.80 1520.70,1302.80 1520.70,1310.20 1376.30,1310.20ZM1513.30,1302.80 1520.70,1302.80 1523.70,1305.60 1523.70,1313.00 1516.30,1313.00 1513.30,1310.20ZM1516.30,1305.60 1556.70,1305.60 1556.70,1313.00 1516.30,1313.00Z"/>
</g>
<g stroke-width="3" fill="none" stroke-linecap="square"><path stroke="#000" d="M237.2,17.9H1553.3V1331.8H237.2"/><path stroke="#1c1c1c" d="M237.2,17.9V1331.8"/></g>
<text font-family="'Liberation Serif', 'Times New Roman', serif" font-size="70.4" text-anchor="end" transform="translate(223.6,1328.0) scale(1.035,1)">0</text>
<text font-family="'Liberation Serif', 'Times New Roman', serif" font-size="70.4" text-anchor="end" transform="translate(223.6,1092.9) scale(1.035,1)">20</text>
<text font-family="'Liberation Serif', 'Times New Roman', serif" font-size="70.4" text-anchor="end" transform="translate(223.6,859.7) scale(1.035,1)">40</text>
<text font-family="'Liberation Serif', 'Times New Roman', serif" font-size="70.4" text-anchor="end" transform="translate(223.6,626.4) scale(1.035,1)">60</text>
<text font-family="'Liberation Serif', 'Times New Roman', serif" font-size="70.4" text-anchor="end" transform="translate(223.6,391.2) scale(1.035,1)">80</text>
<text font-family="'Liberation Serif', 'Times New Roman', serif" font-size="70.4" text-anchor="end" transform="translate(223.6,158.0) scale(1.035,1)">100</text>
<text font-family="'Liberation Serif', 'Times New Roman', serif" font-size="70.4" text-anchor="middle" transform="translate(237.9,1408.9) scale(1.035,1)">2</text>
<text font-family="'Liberation Serif', 'Times New Roman', serif" font-size="70.4" text-anchor="middle" transform="translate(455.4,1408.9) scale(1.035,1)">4</text>
<text font-family="'Liberation Serif', 'Times New Roman', serif" font-size="70.4" text-anchor="middle" transform="translate(675.5,1408.9) scale(1.035,1)">6</text>
<text font-family="'Liberation Serif', 'Times New Roman', serif" font-size="70.4" text-anchor="middle" transform="translate(893.5,1408.9) scale(1.035,1)">8</text>
<text font-family="'Liberation Serif', 'Times New Roman', serif" font-size="70.4" text-anchor="middle" transform="translate(1111.2,1408.9) scale(1.035,1)">10</text>
<text font-family="'Liberation Serif', 'Times New Roman', serif" font-size="70.4" text-anchor="middle" transform="translate(1330.3,1408.9) scale(1.035,1)">12</text>
<text font-family="'Liberation Serif', 'Times New Roman', serif" font-size="70.4" text-anchor="middle" transform="translate(1548.6,1408.9) scale(1.035,1)">14</text>
<text font-family="'Liberation Serif', 'Times New Roman', serif" font-size="69" font-weight="bold" x="751.3" y="1517.9">Time, min</text>
<text font-family="'Liberation Serif', 'Times New Roman', serif" font-size="69.5" font-weight="bold" transform="translate(71.2,1037.1) rotate(-90)">Volume fraction, % d.b.</text>
<text font-family="'Liberation Serif', 'Times New Roman', serif" font-size="69.5" transform="translate(1201.8,737.6) scale(1.020,1)">CO</text>
<text font-family="'Liberation Serif', 'Times New Roman', serif" font-size="42.5" transform="translate(1297.6,748.1) scale(1.110,1)">2</text>
<text font-family="'Liberation Serif', 'Times New Roman', serif" font-size="69.5" transform="translate(733.7,811.0) scale(1.020,1)">CO</text>
<text font-family="'Liberation Serif', 'Times New Roman', serif" font-size="69.5" transform="translate(704.9,1049.4) scale(1.035,1)">H</text>
<text font-family="'Liberation Serif', 'Times New Roman', serif" font-size="42.5" transform="translate(756.5,1059.5) scale(1.110,1)">2</text>
<text font-family="'Liberation Serif', 'Times New Roman', serif" font-size="69.5" transform="translate(690.3,1211.3) scale(1.020,1)">CH</text>
<text font-family="'Liberation Serif', 'Times New Roman', serif" font-size="43.0" transform="translate(788.2,1221.6) scale(1.080,1)">4</text>
</svg>
</body></html>
